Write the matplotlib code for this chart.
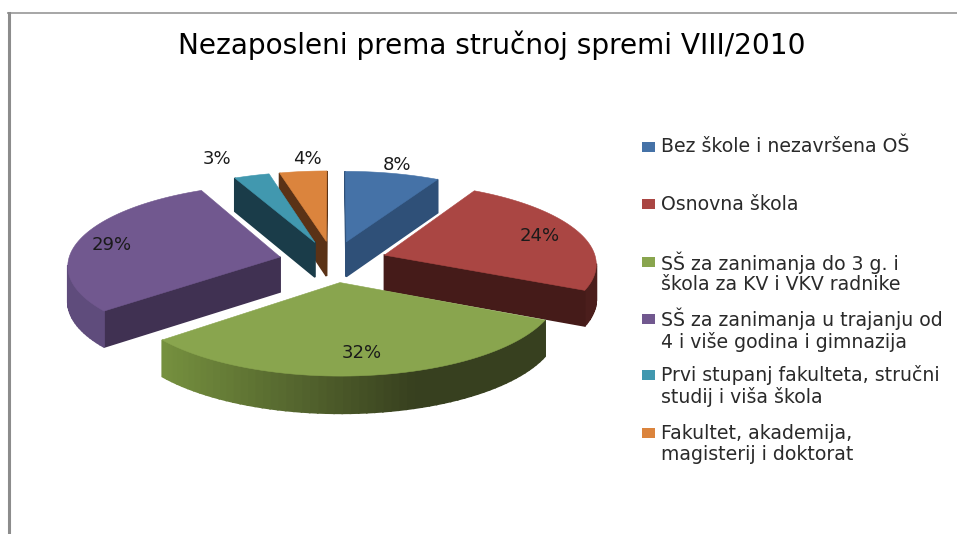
"""Exploded 3D style pie of unemployed persons by education level."""

import matplotlib

matplotlib.use("agg")
import matplotlib.pyplot as plt
import numpy as np
from matplotlib.colors import to_rgb
from matplotlib.patches import Polygon, Rectangle

plt.rcParams["font.family"] = ["DejaVu Sans"]

title = "Nezaposleni prema stručnoj spremi VIII/2010"
legend_labels = [
    "Bez škole i nezavršena OŠ",
    "Osnovna škola",
    "SŠ za zanimanja do 3 g. i\nškola za KV i VKV radnike",
    "SŠ za zanimanja u trajanju od\n4 i više godina i gimnazija",
    "Prvi stupanj fakulteta, stručni\nstudij i viša škola",
    "Fakultet, akademija,\nmagisterij i doktorat",
]
values = [8, 24, 32, 29, 3, 4]
top_colors = ["#4572a7", "#aa4643", "#89a54e", "#71588f", "#4198af", "#db843d"]
wall_colors = ["#2f5078", "#451b19", "#3a4420", "#403152", "#1a3c49", "#5a3216"]
rim_left = ["#2f5078", "#4b1e1c", "#76913f", "#5f4c7c", "#1a3c49", "#5a3216"]
rim_right = ["#2f5078", "#4b1e1c", "#37401f", "#5f4c7c", "#1a3c49", "#5a3216"]
label_pos = [(397, 165), (540, 236), (362, 353), (112, 245), (217, 159), (307, 159)]
legend_y = [147, 204, 273, 330, 386, 444]
draw_order = [5, 4, 0, 3, 1, 2]

# projection of the unit disk on the page, fitted to the reference (pixels)
CX, CY = 333, 261.5
RX, RY = 212, 80.6
DEPTH = 10.7
HEIGHT = 35
EXPLODE = 0.257


def project(x, y):
    """Return page position and perspective scale of a point on the disk."""
    s = DEPTH / (DEPTH - y)
    return CX + RX * x * s, CY + RY * y * s, s


def slice_outline(start, end):
    """Outline of a slice: apex, then the rim, angles clockwise from 12 o'clock."""
    mid = (start + end) / 2
    ox, oy = EXPLODE * np.sin(mid), -EXPLODE * np.cos(mid)
    theta = np.linspace(start, end, 60)
    xs = np.r_[ox, ox + np.sin(theta)]
    ys = np.r_[oy, oy - np.cos(theta)]
    return project(xs, ys)


def draw_slice(ax, i, start, end):
    px, py, s = slice_outline(start, end)
    drop = HEIGHT * np.sqrt(s)
    n = len(px)
    x_range = px.max() - px.min()
    for j in range(n):
        k = (j + 1) % n
        # an edge running right to left on a clockwise outline faces the viewer
        if px[k] >= px[j]:
            continue
        if j == 0 or k == 0:
            color = wall_colors[i]
        else:
            t = (px[j] - px.min()) / x_range
            t = min(t * 1.5, 1)
            color = (1 - t) * np.array(to_rgb(rim_left[i])) + t * np.array(to_rgb(rim_right[i]))
        quad = [
            (px[j], py[j]),
            (px[k], py[k]),
            (px[k], py[k] + drop[k]),
            (px[j], py[j] + drop[j]),
        ]
        ax.add_patch(Polygon(quad, closed=True, fc=color, ec=color, lw=1.2))
    ax.add_patch(Polygon(np.c_[px, py], closed=True, fc=top_colors[i], ec=top_colors[i], lw=0.4))


fig = plt.figure(figsize=(9.57, 5.34), dpi=100)
ax = fig.add_axes([0, 0, 1, 1])
ax.set_xlim(0, 957)
ax.set_ylim(534, 0)
ax.axis("off")

# chart frame, only left and top are inside the picture
ax.plot([8, 957], [13, 13], color="#a6a6a6", lw=1.4)
ax.plot([9.2, 9.2], [12.5, 534], color="#8c8c8c", lw=2.2)

ax.text(491.5, 45, title, ha="center", va="center", fontsize=20.2, color="#000000")

edges = np.cumsum(np.r_[0, values]) / np.sum(values) * 2 * np.pi
for i in draw_order:
    draw_slice(ax, i, edges[i], edges[i + 1])

for val, (lx, ly) in zip(values, label_pos):
    ax.text(lx, ly, f"{val}%", ha="center", va="center", fontsize=13, color="#1a1a1a")

for lab, col, ly in zip(legend_labels, top_colors, legend_y):
    nlines = lab.count("\n") + 1
    sy = ly - 5 if nlines == 1 else ly - 16.5
    ax.add_patch(Rectangle((642, sy), 13, 10, fc=col, ec="none"))
    ax.text(661, ly, lab, ha="left", va="center", fontsize=13.6, color="#2a2a2a", linespacing=1.1)

fig.savefig("out.png", dpi=100)
